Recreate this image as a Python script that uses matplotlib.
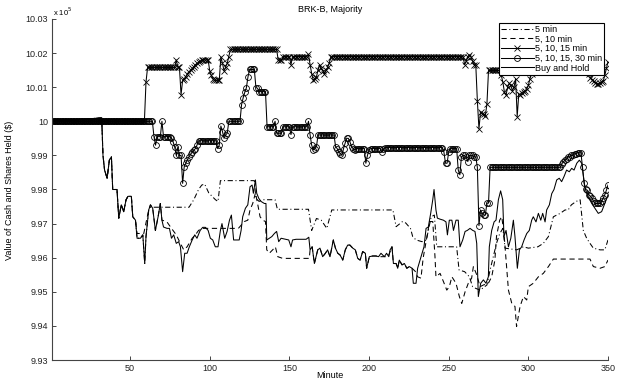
import matplotlib
matplotlib.use("Agg")
import matplotlib.pyplot as plt

plt.rcParams['font.family'] = ['Liberation Sans', 'DejaVu Sans']

# ---------------- data (values in units of 10^5 $) ----------------
minutes = list(range(1, 351))

# 5, 10, 15 min  (one value per minute)
v_15 = ([10.000]*59 + [10.0115] + [10.0158]*18 + [10.0180] + [10.0158]*2 + [10.0078] +
        [10.0120, 10.0125, 10.0130, 10.0140, 10.0145, 10.0150, 10.0155, 10.0160,
         10.0166, 10.0170, 10.0173, 10.0176] +
        [10.0180]*5 + [10.0148, 10.0135, 10.0125] + [10.0120]*4 +
        [10.0189, 10.0170, 10.0148, 10.0160, 10.0170, 10.0190] +
        [10.0211]*30 + [10.0179]*3 + [10.0190]*5 + [10.0166] + [10.0190]*10 + [10.0196] +
        [10.0166, 10.0140, 10.0120, 10.0125, 10.0131, 10.0150, 10.0166, 10.0155,
         10.0148, 10.0138, 10.0150, 10.0158, 10.0170, 10.0189] +
        [10.0190]*83 +
        [10.0166, 10.0176, 10.0190, 10.0195, 10.0190, 10.0176, 10.0166, 10.0166] +
        [10.0060, 9.9978, 10.0027, 10.0022, 10.0020, 10.0017, 10.0050] +
        [10.0149]*8 +
        [10.0135, 10.0115, 10.0085, 10.0077, 10.0100, 10.0111, 10.0105, 10.0090,
         10.0100, 10.0125, 10.0014, 10.0080, 10.0077, 10.0082, 10.0087, 10.0090,
         10.0095, 10.0105, 10.0125, 10.0140] +
        [10.0149]*35 +
        [10.0138, 10.0128, 10.0122, 10.0117, 10.0113, 10.0110, 10.0110, 10.0112,
         10.0115, 10.0118, 10.0135, 10.0155, 10.0175])

# 5, 10, 15, 30 min  (one value per minute)
v_30 = ([10.000]*64 + [9.9955, 9.9930] + [9.9955]*3 + [10.0000] + [9.9955]*5 +
        [9.9950, 9.9940, 9.9925, 9.9900, 9.9925] + [9.9900]*2 +
        [9.9818, 9.9867, 9.9877, 9.9887, 9.9896, 9.9903, 9.9910, 9.9915, 9.9920, 9.9930] +
        [9.9943]*12 + [9.9920, 9.9930, 9.9986, 9.9970, 9.9950, 9.9960, 9.9965] +
        [10.0000]*8 + [10.0049, 10.0069, 10.0085, 10.0098, 10.0130] + [10.0152]*4 +
        [10.0099, 10.0097] + [10.0087]*5 + [9.9984]*5 + [10.0000] + [9.9965]*4 +
        [9.9984]*5 + [9.9961] + [9.9984]*10 + [10.0000] +
        [9.9960, 9.9930, 9.9916, 9.9920, 9.9926] + [9.9960]*11 +
        [9.9926, 9.9920, 9.9910, 9.9905, 9.9900, 9.9920, 9.9936] + [9.9950]*2 +
        [9.9940, 9.9926, 9.9920, 9.9916] + [9.9920]*6 + [9.9877, 9.9900, 9.9916] +
        [9.9920]*7 + [9.9910, 9.9918] + [9.9923]*37 + [9.9910] + [9.9877]*2 + [9.9910] +
        [9.9920]*5 + [9.9857, 9.9843, 9.9896] + [9.9900]*2 + [9.9895, 9.9882] +
        [9.9900]*3 + [9.9896]*2 + [9.9865, 9.9694, 9.9740, 9.9730] + [9.9725]*2 +
        [9.9760]*2 + [9.9865]*45 + [9.9875, 9.9882, 9.9886, 9.9890] + [9.9896]*2 +
        [9.9900]*2 + [9.9905]*2 + [9.9908]*3 +
        [9.9865, 9.9818, 9.9800, 9.9798, 9.9784, 9.9780, 9.9774, 9.9765] + [9.9759]*4 +
        [9.9765, 9.9774, 9.9785, 9.9798, 9.9813])

# Buy and Hold
bh_min = [1, 32.2, 33, 34, 35.6, 37, 38.3, 39.1, 41.8, 42.9, 44.5, 46, 47.5, 48.7, 50.8, 51.7,
          53.4, 54.4, 56.5, 58, 59.2, 60, 61.7, 62.8, 64.2, 65.9, 67.6, 69, 70, 71, 73.2, 74.7,
          76, 77.4, 79, 80.5, 81.6, 83, 84.3, 85.8, 87.2, 89, 90.6, 92, 94, 95.6, 97.3, 99,
          100.4, 101.9, 103.5, 105.2, 106.7, 107.7, 109.4, 110.9, 112.4, 113.6, 115, 117,
          118.5, 119.7, 120.7, 122.4, 123.9, 125.3, 126.6, 127.4, 128.7, 129.5, 130.8, 132.2,
          134.3, 135.3, 135.8, 137.4, 139, 140.6, 142, 143.3, 144.8, 147.5, 149.6, 151, 152,
          154.2, 160.5, 162.2, 163, 164.3, 165.7, 167.8, 169.2, 170.9, 172.6, 174, 175.5,
          177.6, 178.9, 180.4, 181.8, 183.5, 185.1, 186.6, 188, 189.8, 191.4, 192.9, 194.4,
          196, 197.7, 198.5, 200.2, 202.3, 204.4, 206, 207.5, 209.6, 211, 212.4, 213.2, 214.4,
          215.3, 217, 218, 219, 220.7, 222.2, 223.7, 225.3, 227, 227.8, 229.5, 230.5, 232, 233,
          234.5, 235.8, 237.2, 238.7, 240, 240.8, 242, 242.9, 244.6, 246.7, 248.3, 249.2,
          250.4, 252, 253, 254.6, 256, 257.1, 258.8, 260.3, 261.7, 263.4, 265.1, 266.5, 267.6,
          268.6, 270.1, 271.8, 273.4, 274.9, 275.5, 277, 278.5, 279.7, 281.2, 282.6, 283.9,
          284.7, 286, 287.5, 289, 290.6, 291.6, 293.1, 294.4, 295.8, 297.3, 299, 300.6, 302.1,
          303.1, 304.8, 306.3, 307.8, 309, 310.5, 311.5, 313.2, 314.7, 316.1, 317.8, 319.4,
          320.9, 322.4, 324, 325.7, 327.2, 328.7, 330.4, 332, 333.5, 335.6, 337.6, 339.8,
          341.8, 343.9, 346, 348, 350]
bh_val = [10.000, 10.001, 9.990, 9.9857, 9.9833, 9.9886, 9.9896, 9.980, 9.980, 9.9716, 9.9755,
          9.9735, 9.977, 9.978, 9.978, 9.972, 9.971, 9.9657, 9.9657, 9.9667, 9.9583, 9.9662,
          9.974, 9.9755, 9.9745, 9.968, 9.972, 9.9759, 9.971, 9.969, 9.9686, 9.9686, 9.9657,
          9.9667, 9.9642, 9.9647, 9.9632, 9.9559, 9.9613, 9.9613, 9.9632, 9.9652, 9.9667,
          9.9657, 9.968, 9.9689, 9.9689, 9.968, 9.9657, 9.9652, 9.9632, 9.9632, 9.968, 9.970,
          9.9657, 9.9677, 9.971, 9.9725, 9.9652, 9.9652, 9.9652, 9.968, 9.972, 9.9745, 9.9755,
          9.9808, 9.9813, 9.9789, 9.9828, 9.9789, 9.9774, 9.9765, 9.9759, 9.9759, 9.9652,
          9.9657, 9.9662, 9.9671, 9.9677, 9.9647, 9.9657, 9.9654, 9.9652, 9.9632, 9.9652,
          9.9654, 9.9654, 9.966, 9.9623, 9.9632, 9.9583, 9.9623, 9.9628, 9.9603, 9.9613,
          9.9623, 9.9603, 9.9652, 9.9628, 9.9613, 9.9608, 9.9593, 9.9623, 9.9637, 9.9637,
          9.9628, 9.9623, 9.9598, 9.9593, 9.9618, 9.9613, 9.9569, 9.9603, 9.9605, 9.9605,
          9.9603, 9.9613, 9.9603, 9.9613, 9.9603, 9.9623, 9.9632, 9.9583, 9.9583, 9.9569,
          9.9593, 9.9579, 9.9583, 9.9569, 9.9574, 9.9569, 9.9525, 9.9525, 9.9569, 9.9593,
          9.9608, 9.9632, 9.9686, 9.969, 9.973, 9.977, 9.980, 9.974, 9.9716, 9.9713, 9.971,
          9.9705, 9.9667, 9.971, 9.971, 9.968, 9.971, 9.971, 9.9632, 9.9652, 9.9677, 9.968,
          9.9686, 9.968, 9.9677, 9.9642, 9.9486, 9.9525, 9.9535, 9.9525, 9.9544, 9.9632,
          9.968, 9.9705, 9.971, 9.977, 9.9796, 9.977, 9.9662, 9.968, 9.9632, 9.9657, 9.971,
          9.9662, 9.9569, 9.9623, 9.9632, 9.9652, 9.9671, 9.968, 9.971, 9.972, 9.9705, 9.973,
          9.971, 9.973, 9.9705, 9.974, 9.9755, 9.9788, 9.980, 9.9828, 9.9833, 9.9823, 9.9838,
          9.9857, 9.9852, 9.9862, 9.9857, 9.9877, 9.9886, 9.9877, 9.9803, 9.9779, 9.9759,
          9.9745, 9.973, 9.9735, 9.9759, 9.9784]

# 5 min
m5_min = [1, 32.2, 33, 34, 35.6, 37, 38.3, 39.1, 41.8, 42.9, 44.5, 46, 47.5, 48.7, 50.8, 51.7,
          53.4, 54.4, 56.5, 58, 59.2, 60, 61.7, 63, 87, 90, 93, 95, 96.8, 99.4, 101.5, 103.6,
          105.2, 106.7, 128, 129, 131, 133, 141, 142.5, 162, 164, 167, 170, 173.5, 176.6, 215,
          217, 221, 223, 226, 227.4, 229.5, 233.3, 236, 239, 241, 242.5, 255, 256.5, 260, 263,
          265, 267, 269.7, 274, 276, 278, 280, 282, 284, 285.4, 292.7, 296.9, 300, 306, 309.4,
          312.6, 315.7, 317.8, 320, 323, 325, 327, 330, 332.5, 334.5, 336.6, 338.7, 340.8, 345,
          348, 350]
m5_val = [10.000, 10.001, 9.990, 9.9857, 9.9833, 9.9886, 9.9896, 9.980, 9.980, 9.9716, 9.9755,
          9.9735, 9.977, 9.978, 9.978, 9.972, 9.971, 9.9657, 9.9657, 9.9667, 9.9583, 9.9662,
          9.974, 9.9748, 9.9748, 9.977, 9.980, 9.9813, 9.9816, 9.979, 9.978, 9.977, 9.9765,
          9.9826, 9.9826, 9.9774, 9.9765, 9.977, 9.977, 9.9742, 9.9742, 9.968, 9.9715, 9.971,
          9.9686, 9.974, 9.974, 9.9691, 9.9706, 9.9702, 9.9686, 9.9662, 9.9652, 9.9647, 9.9652,
          9.9720, 9.9725, 9.9632, 9.9632, 9.9564, 9.9559, 9.9544, 9.9515, 9.951, 9.9505,
          9.952, 9.9564, 9.9603, 9.9642, 9.967, 9.9686, 9.9628, 9.9623, 9.9632, 9.9628,
          9.9632, 9.9642, 9.9662, 9.972, 9.9725, 9.973, 9.974, 9.974, 9.9755, 9.9765, 9.977,
          9.968, 9.9657, 9.9642, 9.9628, 9.9623, 9.9623, 9.9652]

# 5, 10 min
m10_min = [1, 32.2, 33, 34, 35.6, 37, 38.3, 39.1, 41.8, 42.9, 44.5, 46, 47.5, 48.7, 50.8, 51.7,
           53.4, 54.4, 58.6, 61.7, 62.8, 64.2, 65.9, 67.6, 69, 70, 73, 76, 79, 81.6, 83.7,
           85.8, 89, 91, 93, 95, 118, 121.7, 123.9, 125.3, 127, 128.7, 130, 131.6, 133.3, 135,
           135.8, 137.4, 139.5, 141.2, 142.7, 145.8, 162.5, 163, 164.3, 165.7, 167.8, 169.2,
           170.9, 172.6, 174, 175.5, 177.6, 178.9, 180.4, 181.8, 183.5, 185.1, 186.6, 188,
           189.8, 191.4, 192.9, 194.4, 196, 197.7, 198.5, 200.2, 202.3, 204.4, 206, 212,
           214.4, 215.3, 217, 218, 219, 220.7, 222.2, 223.7, 225.3, 227, 229, 230.5, 232.6,
           234, 236, 238, 240, 241.4, 242, 244.6, 246.7, 248.8, 250.4, 252, 254.6, 256.7,
           258.2, 260.3, 262.3, 264.4, 265.5, 267.6, 269.7, 271.8, 274.9, 277, 279, 280, 282,
           283.3, 284.7, 286, 287.5, 289.6, 291.6, 292.6, 294.8, 296.9, 299, 300, 303.1, 306.3,
           309.4, 312.6, 315.7, 338.7, 340.8, 345, 348, 350]
m10_val = [10.000, 10.001, 9.990, 9.9857, 9.9833, 9.9886, 9.9896, 9.980, 9.980, 9.9716, 9.9755,
           9.9735, 9.977, 9.978, 9.978, 9.972, 9.971, 9.9671, 9.9671, 9.974, 9.9755, 9.9745,
           9.968, 9.972, 9.9759, 9.971, 9.9706, 9.9686, 9.9667, 9.9642, 9.9623, 9.9632,
           9.9657, 9.9667, 9.968, 9.9686, 9.9686, 9.9706, 9.971, 9.974, 9.9759, 9.979, 9.976,
           9.972, 9.971, 9.9706, 9.9623, 9.9613, 9.9623, 9.9632, 9.9603, 9.9598, 9.9598,
           9.9623, 9.9632, 9.9583, 9.9623, 9.9628, 9.9603, 9.9613, 9.9623, 9.9603, 9.9652,
           9.9628, 9.9613, 9.9608, 9.9593, 9.9623, 9.9637, 9.9637, 9.9628, 9.9623, 9.9598,
           9.9593, 9.9618, 9.9613, 9.9569, 9.9603, 9.9605, 9.9605, 9.9603, 9.9603, 9.9632,
           9.9583, 9.9583, 9.9569, 9.9593, 9.9579, 9.9583, 9.9569, 9.9574, 9.9569, 9.956,
           9.9544, 9.954, 9.960, 9.9652, 9.9706, 9.9706, 9.9603, 9.9544, 9.9554, 9.953,
           9.9505, 9.9515, 9.9544, 9.9525, 9.9486, 9.9466, 9.950, 9.9525, 9.954, 9.9574,
           9.955, 9.9515, 9.952, 9.9525, 9.9544, 9.9593, 9.9662, 9.971, 9.972, 9.9672, 9.9593,
           9.9505, 9.9466, 9.9457, 9.9398, 9.9457, 9.9486, 9.9476, 9.9515, 9.9525, 9.9544,
           9.9554, 9.9574, 9.9596, 9.9596, 9.9574, 9.9569, 9.9574, 9.9593]

labels = ['5 min', '5, 10 min', '5, 10, 15 min', '5, 10, 15, 30 min', 'Buy and Hold']
xticks = [50, 100, 150, 200, 250, 300, 350]
yticks = [9.93, 9.94, 9.95, 9.96, 9.97, 9.98, 9.99, 10.00, 10.01, 10.02, 10.03]
ytick_labels = ['9.93', '9.94', '9.95', '9.96', '9.97', '9.98', '9.99', '10',
                '10.01', '10.02', '10.03']

# ---------------- figure ----------------
W, H = 617, 386
fig = plt.figure(figsize=(W/100, H/100), dpi=100)
ax = fig.add_axes([52/W, 1-360/H, 556/W, 341/H])

lw = 0.75
ax.plot(m5_min, m5_val, color='black', lw=lw, linestyle=(0, (5, 2.5, 1, 2.5)), label=labels[0])
ax.plot(m10_min, m10_val, color='black', lw=lw, linestyle=(0, (5, 3.5)), label=labels[1])
ax.plot(minutes, v_15, color='black', lw=lw, marker='x', markersize=4, markeredgewidth=0.6,
        label=labels[2])
ax.plot(minutes, v_30, color='black', lw=lw, marker='o', markersize=4.2, markeredgewidth=0.6,
        markerfacecolor='none', label=labels[3])
ax.plot(bh_min, bh_val, color='black', lw=lw, label=labels[4])

ax.set_xlim(1, 350)
ax.set_ylim(9.93, 10.03)
ax.set_xticks(xticks)
ax.set_xticklabels([str(t) for t in xticks])
ax.set_yticks(yticks)
ax.set_yticklabels(ytick_labels)

for s in ['top', 'right']:
    ax.spines[s].set_visible(False)
for s in ['left', 'bottom']:
    ax.spines[s].set_linewidth(0.8)
    ax.spines[s].set_color('#444444')
ax.tick_params(direction='in', length=3, width=0.7, colors='#444444', labelsize=6.5,
               labelcolor='#222222')
ax.tick_params(axis='x', pad=3)
ax.tick_params(axis='y', pad=3)

fig.text(330/W, 1-10/H, 'BRK-B, Majority', ha='center', va='center', fontsize=6.5)
fig.text(330/W, 1-375/H, 'Minute', ha='center', va='center', fontsize=6.5)
fig.text(10/W, 1-190/H, 'Value of Cash and Shares Held ($)', ha='center', va='center',
         rotation=90, fontsize=6.5)
ax.text(0.002, 1.004, r'x 10$^5$', transform=ax.transAxes, ha='left', va='bottom',
        fontsize=5.5)

leg = ax.legend(loc='upper right', bbox_to_anchor=(604/W, 1-22.5/H),
                bbox_transform=fig.transFigure, fontsize=6.5, frameon=True, fancybox=False,
                edgecolor='black', framealpha=1, borderaxespad=0, borderpad=0.25,
                labelspacing=0.08, handlelength=3.6, handletextpad=0.1)
leg.get_frame().set_linewidth(0.8)

fig.savefig('out.png', dpi=100)
